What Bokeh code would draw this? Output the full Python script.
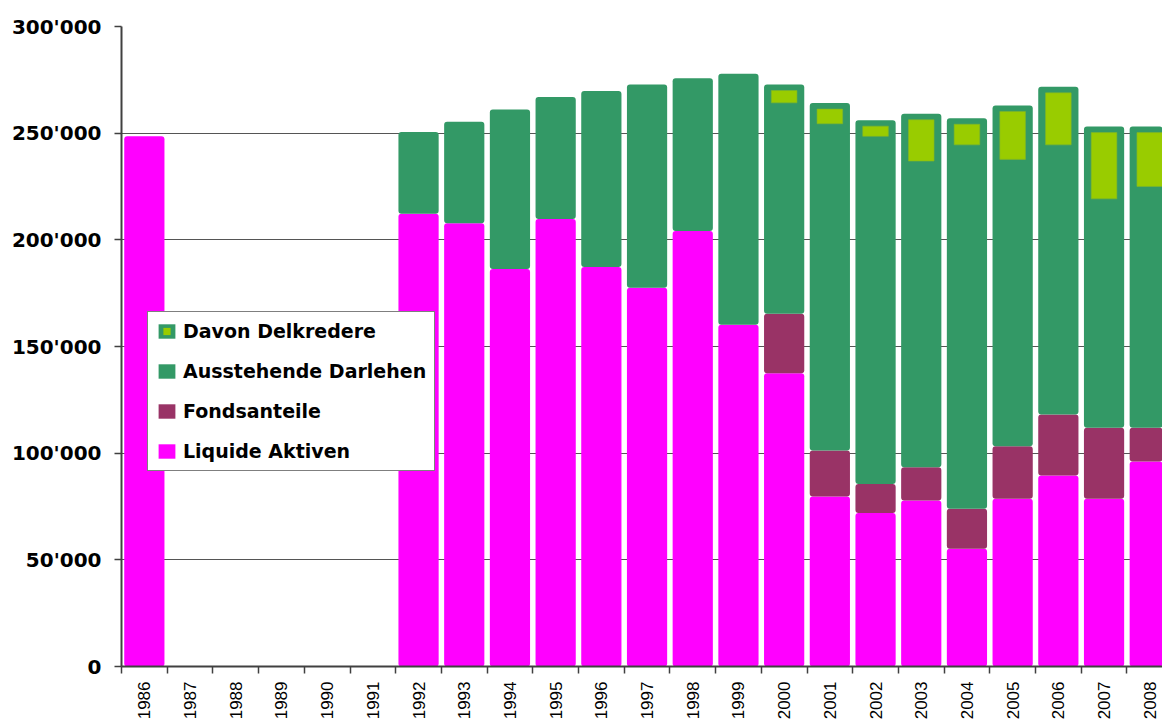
import math
from bokeh.plotting import figure
from bokeh.models import ColumnDataSource, Range1d, FixedTicker, Legend, LegendItem
from bokeh.embed import file_html
from bokeh.resources import INLINE

# ---------------- data ----------------
years = list(range(1986, 2009))
year_labels = [str(y) for y in years]

liquide = [248600, 0, 0, 0, 0, 0, 212200, 207800, 186300, 209800, 187300, 177500,
           204100, 160200, 137500, 79700, 71900, 77800, 55200, 78600, 89500, 78600, 96100]
fonds = [0, 0, 0, 0, 0, 0, 0, 0, 0, 0, 0, 0, 0, 0,
         27800, 21500, 13700, 15600, 18700, 24700, 28600, 33300, 15800]
darlehen = [0, 0, 0, 0, 0, 0, 38400, 47500, 74800, 57200, 82500, 95300, 71700, 117600,
            107500, 162900, 170500, 165700, 183100, 159700, 153600, 141200, 141200]
delkredere = [0, 0, 0, 0, 0, 0, 0, 0, 0, 0, 0, 0, 0, 0,
              11400, 12500, 10400, 25000, 15300, 28100, 30000, 36700, 30900]

y_ticks = [0, 50000, 100000, 150000, 200000, 250000, 300000]
y_tick_labels = ["0", "50'000", "100'000", "150'000", "200'000", "250'000", "300'000"]

series_names = ["Davon Delkredere", "Ausstehende Darlehen", "Fondsanteile", "Liquide Aktiven"]

# ---------------- style ----------------
MAGENTA = "#FF00FF"
MAROON = "#993366"
GREEN = "#339966"
LIGHT = "#99CC00"
AXIS_COL = "#404040"

W, H = 1162, 722
BORDER_L, BORDER_T, BORDER_B = 121, 26, 56
PX_PER_CAT = 45.7
Y_MAX = 300000
FRAME_H = H - BORDER_T - BORDER_B
VAL_PER_PX = Y_MAX / FRAME_H
BAR_W = 0.88
INNER_W = BAR_W - 2 * 7.3 / PX_PER_CAT
PAD = 6 * VAL_PER_PX
RADIUS = 3

x_start = years[0] - 0.5
x_end = x_start + (W - BORDER_L) / PX_PER_CAT

p = figure(width=W, height=H, output_backend="svg", toolbar_location=None,
           x_range=Range1d(x_start, x_end), y_range=Range1d(0, Y_MAX),
           min_border_left=BORDER_L, min_border_right=0, min_border_top=BORDER_T,
           min_border_bottom=BORDER_B, background_fill_color="white",
           border_fill_color="white")
p.outline_line_color = None

# stacked segments
def seg_source(bottoms, tops):
    xs, bs, ts = [], [], []
    for x, b, t in zip(years, bottoms, tops):
        if t - b > 0:
            xs.append(x); bs.append(b); ts.append(t)
    return ColumnDataSource(dict(x=xs, bottom=bs, top=ts))

t1 = liquide
t2 = [a + b for a, b in zip(t1, fonds)]
t3 = [a + b for a, b in zip(t2, darlehen)]

r_liq = p.vbar(x="x", bottom="bottom", top="top", width=BAR_W, source=seg_source([0] * len(years), t1),
               fill_color=MAGENTA, line_color=None, border_radius=RADIUS)
r_fonds = p.vbar(x="x", bottom="bottom", top="top", width=BAR_W, source=seg_source(t1, t2),
                 fill_color=MAROON, line_color=None, border_radius=RADIUS)
r_darl = p.vbar(x="x", bottom="bottom", top="top", width=BAR_W, source=seg_source(t2, t3),
                fill_color=GREEN, line_color=None, border_radius=RADIUS)

# Delkredere inset (inside the top of the green bar)
dx, db, dt = [], [], []
for x, tot, d in zip(years, t3, delkredere):
    if d > 0:
        dx.append(x); dt.append(tot - PAD); db.append(tot - d + PAD)
dk_src = ColumnDataSource(dict(x=dx, bottom=db, top=dt))
p.vbar(x="x", bottom="bottom", top="top", width=INNER_W, source=dk_src,
       fill_color=LIGHT, line_color="#7fb52a", line_width=0.6)

# zero-size marker: only shows as the small light square in the legend swatch
r_dk_mark = p.scatter(x="x", y="top", source=dk_src, marker="square", size=0,
                      fill_color=LIGHT, line_color=None)

legend = Legend(items=[
    LegendItem(label=series_names[0], renderers=[r_darl, r_dk_mark]),
    LegendItem(label=series_names[1], renderers=[r_darl]),
    LegendItem(label=series_names[2], renderers=[r_fonds]),
    LegendItem(label=series_names[3], renderers=[r_liq]),
], location=(26, 195))
legend.border_line_color = "black"
legend.border_line_width = 1
legend.background_fill_color = "white"
legend.background_fill_alpha = 1
legend.label_text_font = "DejaVu Sans"
legend.label_text_font_style = "bold"
legend.label_text_font_size = "19px"
legend.label_text_color = "black"
legend.glyph_width = 21
legend.glyph_height = 18
legend.label_height = 22
legend.spacing = 18
legend.padding = 8
legend.margin = 0
legend.label_standoff = 6
p.add_layout(legend)

# axes
xa = p.xaxis[0]
xa.ticker = FixedTicker(ticks=years, minor_ticks=[y - 0.5 for y in years] + [years[-1] + 0.5])
xa.major_label_overrides = {y: lab for y, lab in zip(years, year_labels)}
xa.major_tick_out = 0
xa.major_tick_in = 0
xa.minor_tick_out = 7
xa.minor_tick_in = 0
xa.minor_tick_line_color = AXIS_COL
xa.minor_tick_line_width = 1.5
xa.axis_line_color = AXIS_COL
xa.axis_line_width = 2
xa.major_label_orientation = math.pi / 2
xa.major_label_text_font = "Liberation Sans"
xa.major_label_text_font_size = "17px"
xa.major_label_text_color = "black"
xa.major_label_standoff = 8

ya = p.yaxis[0]
ya.ticker = FixedTicker(ticks=y_ticks, minor_ticks=[])
ya.major_label_overrides = {v: lab for v, lab in zip(y_ticks, y_tick_labels)}
ya.major_tick_out = 7
ya.major_tick_in = 0
ya.major_tick_line_color = AXIS_COL
ya.major_tick_line_width = 1.5
ya.minor_tick_line_color = None
ya.axis_line_color = AXIS_COL
ya.axis_line_width = 2
ya.major_label_text_font = "DejaVu Sans"
ya.major_label_text_font_style = "bold"
ya.major_label_text_font_size = "20px"
ya.major_label_text_color = "black"
ya.major_label_standoff = 13

p.xgrid.grid_line_color = None
p.ygrid.ticker = FixedTicker(ticks=y_ticks)
p.ygrid.grid_line_color = "#555555"
p.ygrid.grid_line_width = 1

open("out.html", "w").write(file_html(p, INLINE))
